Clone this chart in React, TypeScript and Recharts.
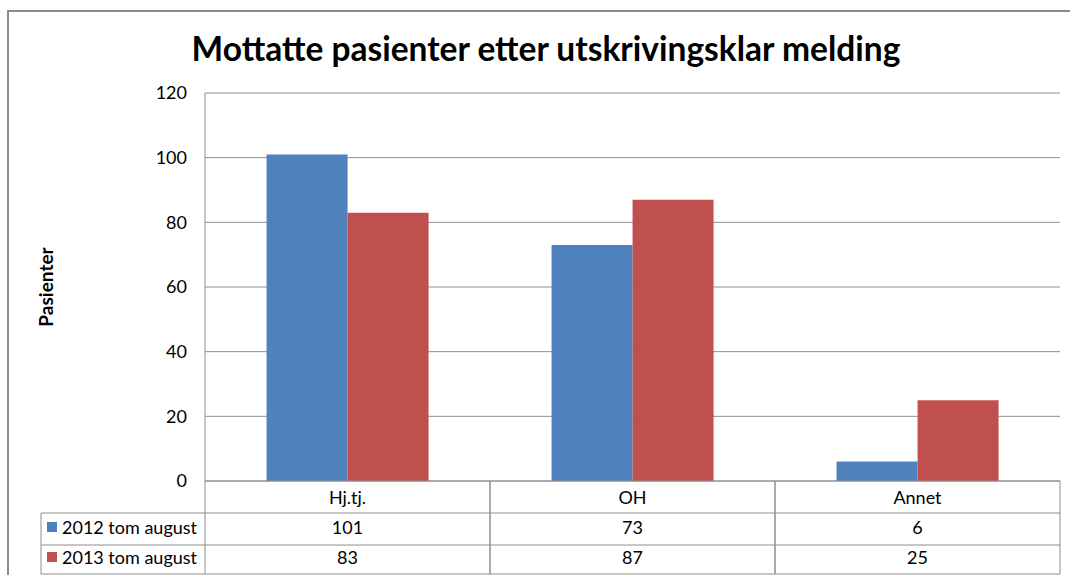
import React from 'react';
import { BarChart, Bar, XAxis, YAxis, CartesianGrid } from 'recharts';

const categories = ['Hj.tj.', 'OH', 'Annet'];
const series2012 = [101, 73, 6];
const series2013 = [83, 87, 25];
const seriesNames = ['2012 tom august', '2013 tom august'];
const yTicks = [0, 20, 40, 60, 80, 100, 120];

const data = categories.map((c, i) => ({ name: c, s2012: series2012[i], s2013: series2013[i] }));

const W = 1070;
const H = 575;
const PLOT_LEFT = 205;
const PLOT_RIGHT = 10;
const PLOT_TOP = 93;
const AXIS_H = 94;
const BAND = (W - PLOT_LEFT - PLOT_RIGHT) / categories.length;
const COLORS = ['#4F81BD', '#C0504D'];
const LINE = '#8E8E8E';
const FONT = 'Lato, "Open Sans", sans-serif';
const FS = 18;

const TableTick = (props: any) => {
  const { x, y, payload, index } = props;
  const i = index ?? payload.index;
  const left = x - BAND / 2;
  const right = x + BAND / 2;
  const rowY = [y + 16, y + 46, y + 76];
  const vals = [series2012[i], series2013[i]];
  const labelLeft = left - 164;
  return (
    <g>
      <line x1={left} y1={y} x2={left} y2={y + 93} stroke={LINE} strokeWidth={1} />
      <line x1={right} y1={y} x2={right} y2={y + 93} stroke={LINE} strokeWidth={1} />
      <line x1={left} y1={y + 32} x2={right} y2={y + 32} stroke={LINE} />
      <line x1={left} y1={y + 64} x2={right} y2={y + 64} stroke={LINE} />
      <line x1={left} y1={y + 93} x2={right} y2={y + 93} stroke={LINE} />
      <text x={x} y={rowY[0]} textAnchor="middle" dominantBaseline="central" fontSize={FS} fill="#000" fontFamily={FONT}>
        {payload.value}
      </text>
      {vals.map((v, k) => (
        <text key={k} x={x} y={rowY[k + 1]} textAnchor="middle" dominantBaseline="central" fontSize={FS} fill="#000" fontFamily={FONT}>
          {v}
        </text>
      ))}
      {i === 0 && (
        <g>
          <line x1={labelLeft} y1={y + 32} x2={left} y2={y + 32} stroke={LINE} />
          <line x1={labelLeft} y1={y + 64} x2={left} y2={y + 64} stroke={LINE} />
          <line x1={labelLeft} y1={y + 93} x2={left} y2={y + 93} stroke={LINE} />
          <line x1={labelLeft} y1={y + 32} x2={labelLeft} y2={y + 93} stroke={LINE} />
          {seriesNames.map((n, k) => (
            <g key={n}>
              <rect x={labelLeft + 6} y={rowY[k + 1] - 5} width={10} height={10} fill={COLORS[k]} />
              <text x={labelLeft + 21} y={rowY[k + 1]} dominantBaseline="central" fontSize={FS} fill="#000" fontFamily={FONT}>
                {n}
              </text>
            </g>
          ))}
        </g>
      )}
    </g>
  );
};

const YLabel = (props: any) => {
  const vb = props.viewBox || { x: 0, y: PLOT_TOP, height: 388 };
  const cx = 45;
  const cy = vb.y + vb.height / 2;
  return (
    <text x={cx} y={cy} transform={`rotate(-90 ${cx} ${cy})`} textAnchor="middle" dominantBaseline="central" fontSize={19} fontWeight={700} fill="#000" fontFamily={FONT}>
      Pasienter
    </text>
  );
};

export default function App() {
  return (
    <div style={{ position: 'absolute', left: 0, top: 0, width: W, height: H, background: '#fff', overflow: 'hidden' }}>
      <div style={{ position: 'absolute', left: 7, top: 10, width: W, height: H, border: '2px solid #8c8c8c', boxSizing: 'border-box' }} />
      <div style={{ position: 'absolute', left: 0, top: 24, width: 1092, textAlign: 'center', fontFamily: FONT, fontWeight: 700, fontSize: 33.5, color: '#000', lineHeight: '48px' }}>
        Mottatte pasienter etter utskrivingsklar melding
      </div>
      <div style={{ position: 'absolute', left: 0, top: 0 }}>
        <BarChart
          width={W}
          height={H}
          data={data}
          margin={{ top: PLOT_TOP, right: PLOT_RIGHT, bottom: 0, left: 0 }}
          barCategoryGap="21.6%"
          barGap={0}
        >
          <CartesianGrid vertical={false} stroke={LINE} strokeWidth={1} />
          <XAxis
            dataKey="name"
            height={AXIS_H}
            axisLine={{ stroke: LINE }}
            tickLine={false}
            tickSize={0}
            tickMargin={0}
            interval={0}
            tick={<TableTick />}
          />
          <YAxis
            width={PLOT_LEFT}
            domain={[0, 120]}
            ticks={yTicks}
            axisLine={{ stroke: LINE }}
            tickLine={false}
            tickSize={8}
            tickMargin={10}
            tick={{ fontSize: FS, fill: '#000', fontFamily: FONT }}
            label={<YLabel />}
          />
          <Bar dataKey="s2012" fill={COLORS[0]} isAnimationActive={false} />
          <Bar dataKey="s2013" fill={COLORS[1]} isAnimationActive={false} />
        </BarChart>
      </div>
    </div>
  );
}
